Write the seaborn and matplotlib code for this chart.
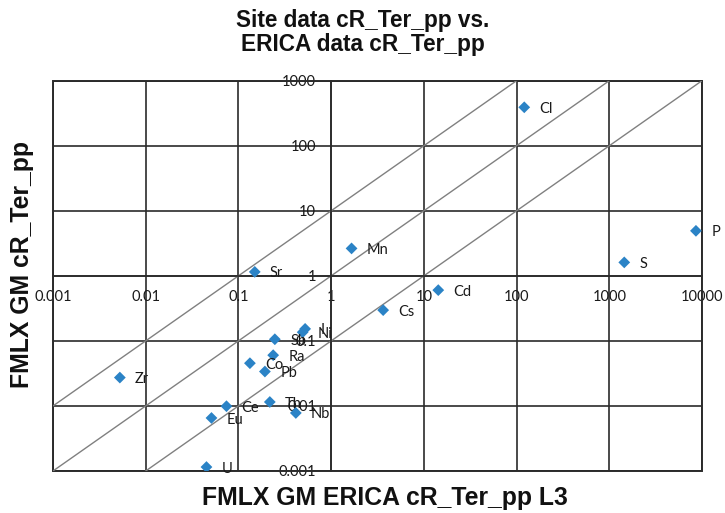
import matplotlib
matplotlib.use("Agg")
import matplotlib.pyplot as plt
from matplotlib.patches import Rectangle
import pandas as pd
import seaborn as sns

# Element transfer parameters: ERICA default (x) vs. site-derived (y)
elements = ["Cl", "P", "S", "Mn", "Sr", "Cd", "Cs", "I", "Ni", "Sb",
            "Ra", "Co", "Pb", "Zr", "Th", "Nb", "Ce", "Eu", "U"]
erica_cr = [121, 8600, 1450, 1.66, 0.150, 14.3, 3.64, 0.524, 0.493, 0.247,
            0.237, 0.133, 0.193, 0.00526, 0.218, 0.416, 0.0743, 0.0512, 0.0452]
site_cr = [390, 4.92, 1.61, 2.64, 1.15, 0.603, 0.297, 0.153, 0.136, 0.106,
           0.0603, 0.0454, 0.0338, 0.0273, 0.0115, 0.0078, 0.0099, 0.00653, 0.00115]

x_ticks = [0.001, 0.01, 0.1, 1, 10, 100, 1000, 10000]
x_tick_labels = ["0.001", "0.01", "0.1", "1", "10", "100", "1000", "10000"]
y_ticks = [0.001, 0.01, 0.1, 1, 10, 100, 1000]
y_tick_labels = ["0.001", "0.01", "0.1", "1", "10", "100", "1000"]

# 1:1 line and the factor-of-ten band around it
guide_ratios = [10, 1, 0.1]
guide_x = [0.001, 10000]

df = pd.DataFrame({"element": elements, "erica": erica_cr, "site": site_cr})

sns.set_style("white")
plt.rcParams["font.family"] = ["Lato", "DejaVu Sans"]

fig = plt.figure(figsize=(7.25, 5.13), dpi=100)
ax = fig.add_axes([0.0731, 0.0819, 0.8952, 0.7608])
ax.set_xscale("log")
ax.set_yscale("log")
ax.set_xlim(x_ticks[0], x_ticks[-1])
ax.set_ylim(y_ticks[0], y_ticks[-1])

ax.set_xticks(x_ticks)
ax.set_xticklabels(x_tick_labels)
ax.set_yticks(y_ticks)
ax.set_yticklabels(y_tick_labels)
ax.minorticks_off()

grid_color = "#2b2b2b"
ax.grid(True, which="major", color=grid_color, linewidth=1.2)
ax.set_axisbelow(True)

# axes cross at (1, 1)
for side in ("left", "bottom"):
    ax.spines[side].set_position(("data", 1))
    ax.spines[side].set_color(grid_color)
    ax.spines[side].set_linewidth(1.2)
for side in ("top", "right"):
    ax.spines[side].set_visible(False)
ax.add_patch(Rectangle((0, 0), 1, 1, transform=ax.transAxes, fill=False,
                       edgecolor=grid_color, linewidth=1.4, clip_on=False, zorder=1))

ax.tick_params(axis="both", length=0, labelsize=10.5, colors="#1a1a1a")
ax.tick_params(axis="x", pad=10.2)
ax.tick_params(axis="y", pad=10.8)

for r in guide_ratios:
    ax.plot(guide_x, [r * v for v in guide_x], color="#808080", linewidth=1.0, zorder=2)

sns.scatterplot(data=df, x="erica", y="site", marker="D", s=36, color="#2B83C6",
                edgecolor="none", linewidth=0, ax=ax, zorder=3, legend=False)

for name, xv, yv in zip(elements, erica_cr, site_cr):
    ax.annotate(name, (xv, yv), xytext=(11, -1.1), textcoords="offset points",
                ha="left", va="center", fontsize=10.5, color="#1a1a1a", zorder=4)

ax.set_xlabel("")
ax.set_ylabel("")

bold = dict(family=["Liberation Sans", "DejaVu Sans"], fontweight="bold", color="#111111")
fig.text(0.5, 1 - 20 / 513, "Site data cR_Ter_pp vs.", ha="center", va="center",
         fontsize=16.3, **bold)
fig.text(0.5, 1 - 44 / 513, "ERICA data cR_Ter_pp", ha="center", va="center",
         fontsize=16.3, **bold)
fig.text(385 / 725, 1 - 498 / 513, "FMLX GM ERICA cR_Ter_pp L3", ha="center",
         va="center", fontsize=17.8, **bold)
fig.text(22 / 725, 1 - 265 / 513, "FMLX GM cR_Ter_pp", ha="center", va="center",
         rotation=90, fontsize=17.8, **bold)

fig.savefig("out.png", dpi=100)
